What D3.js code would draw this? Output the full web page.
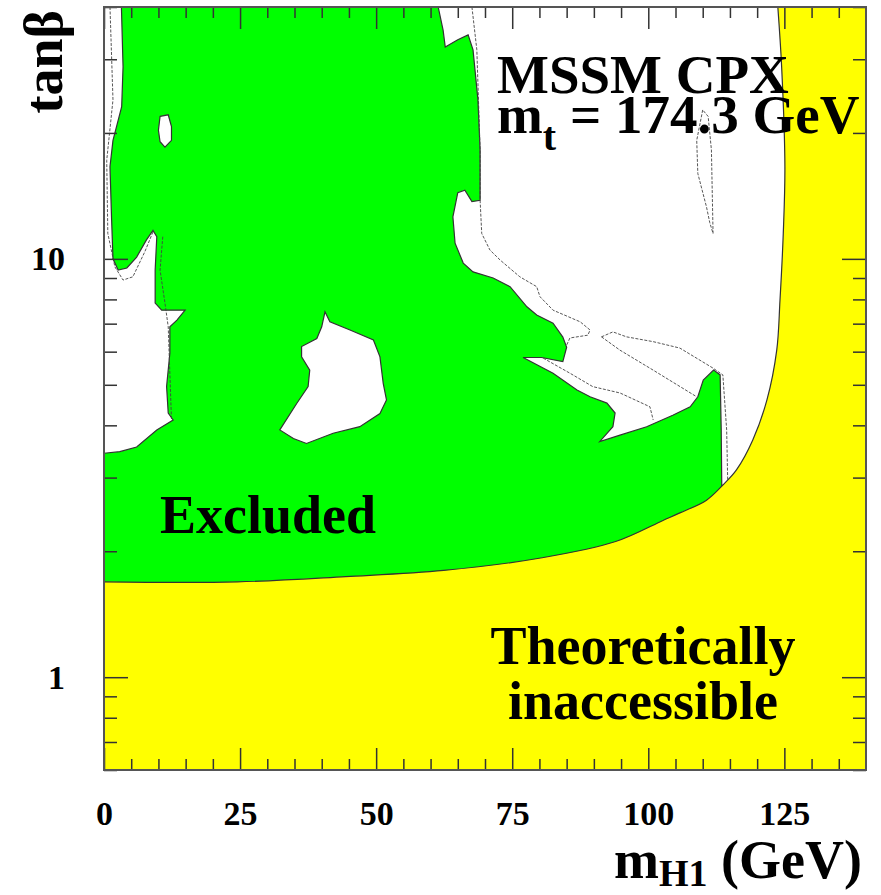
<!DOCTYPE html>
<html>
<head>
<meta charset="utf-8">
<script src="https://cdn.jsdelivr.net/npm/d3@7"></script>
<style>
body { margin: 0; background: #fff; }
text { font-family: "Liberation Serif", "Times New Roman", serif; font-weight: bold; fill: #000; }
</style>
</head>
<body>
<svg id="chart" width="881" height="895"></svg>
<script>
// all points are [mH1 (GeV), tanb]

// outline of the excluded (green) region
let excluded = [
  [3.2, 40], [61.4, 40], [62.3, 35.2], [62.7, 32.1], [65.0, 33.4], [66.9, 34.3], [67.8, 31.6],
  [68.7, 24.0], [69.1, 18.2], [69.1, 13.8], [67.6, 13.7], [66.3, 14.6], [65.0, 14.4], [64.1, 12.6],
  [64.5, 10.9], [66.0, 9.77], [67.8, 9.31], [71.5, 9.0], [74.6, 8.58], [77.7, 7.68], [79.5, 7.34],
  [82.5, 7.02], [84.3, 6.50], [85.0, 6.15], [84.3, 5.68], [80.4, 5.81], [77.0, 5.81], [82.5, 5.33],
  [86.9, 4.86], [89.3, 4.68], [92.4, 4.52], [93.9, 4.28], [93.5, 3.97], [91.1, 3.66], [94.8, 3.79],
  [99.7, 3.97], [104.5, 4.23], [107.7, 4.43], [109.1, 4.68], [110.1, 5.13], [112.0, 5.42],
  [113.2, 5.28], [113.4, 3.90], [113.5, 2.85], [113.5, 1.5], [0, 1.5], [0, 3.43], [2.9, 3.46],
  [6.0, 3.55], [9.7, 3.90], [12.7, 4.12], [11.8, 4.28], [11.5, 4.95], [12.1, 5.95], [12.1, 6.88],
  [13.4, 7.14], [14.9, 7.54], [10.6, 7.54], [9.4, 7.84], [9.4, 9.40], [9.7, 11.3], [9.0, 11.7],
  [7.8, 11.1], [6.0, 10.1], [4.2, 9.51], [2.6, 9.40], [1.65, 10.0], [1.4, 12.4], [1.1, 16.6],
  [1.65, 19.2], [3.25, 23.1], [3.5, 28.8]
];

// allowed islands inside the excluded region
let holeSmall = [[10.3, 21.9], [11.8, 22.1], [12.4, 20.7], [12.4, 19.2], [11.2, 18.5], [10.3, 19.05], [10.0, 20.3]];
let holeMid = [
  [40.6, 7.47], [41.5, 7.07], [45.2, 6.76], [49.5, 6.40], [50.7, 5.83], [51.3, 5.04], [51.9, 4.60],
  [50.7, 4.27], [47.0, 3.97], [42.1, 3.83], [37.2, 3.62], [34.8, 3.72], [32.3, 3.90], [35.4, 4.51],
  [37.5, 4.95], [37.8, 5.42], [36.3, 5.83], [36.3, 6.17], [39.1, 6.45], [40.0, 6.88]
];

// edge of the theoretically inaccessible (yellow) region
let theoryEdge = [
  [0, 1.69], [24.5, 1.69], [44.4, 1.74], [62.4, 1.80], [80.5, 1.93], [94.0, 2.11], [102.7, 2.37],
  [105.8, 2.47], [110.7, 2.65], [113.7, 2.88], [116.2, 3.13], [119.2, 3.69], [121.8, 4.60],
  [123.6, 6.05], [124.2, 7.97], [124.8, 11.5], [125.1, 16.6], [124.5, 28.8], [123.8, 40]
];

// thin dashed contours
let contours = [
  [[67.6, 40], [68.5, 31.6], [69.1, 18.2], [69.1, 13.8], [69.4, 11.5], [70.9, 10.5], [72.8, 9.93], [76.4, 9.06],
   [79.5, 8.58], [80.1, 8.12], [82.5, 7.54], [87.5, 7.07], [89.3, 6.76], [88.9, 6.57], [85.6, 6.47], [85.0, 6.22]],
  [[91.4, 6.51], [93.5, 6.69], [96.0, 6.51], [100.9, 6.34], [105.8, 6.12], [111.9, 5.48], [113.7, 5.28], [114.4, 3.90], [114.6, 2.91]],
  [[91.4, 6.51], [94.8, 6.05], [100.9, 5.42], [108.9, 4.68]],
  [[80.7, 5.79], [85.6, 5.33], [89.8, 4.95], [94.8, 4.78], [100.3, 4.43], [100.9, 4.12]],
  [[110.0, 22.7], [108.9, 19.2], [109.1, 16.0], [110.7, 13.3], [111.3, 12.2], [111.9, 11.5], [111.6, 18.2], [111.0, 21.9], [110.0, 22.7]],
  [[1.1, 40], [1.65, 24.0], [0.5, 17.2], [0.7, 11.5], [2.0, 9.57], [3.5, 8.9], [5.3, 9.06], [7.5, 10.4], [9.0, 11.6]],
  [[10.8, 11.3], [10.3, 9.4], [11.2, 7.84], [11.8, 6.88], [12.4, 4.12]]
];

let xMajor = [0, 25, 50, 75, 100, 125];
let xMinor = [5, 10, 15, 20, 30, 35, 40, 45, 55, 60, 65, 70, 80, 85, 90, 95, 105, 110, 115, 120, 130, 135];
let yMajor = [1, 10];
let yMinor = [0.6, 0.7, 0.8, 0.9, 2, 3, 4, 5, 6, 7, 8, 9, 20, 30, 40];

let svg = d3.select("#chart");
let pLeft = 104, pRight = 866, pTop = 7, pBottom = 770;

let x = d3.scaleLinear().domain([0, 140]).range([pLeft, pRight]);
let y = d3.scaleLog().domain([0.6, 40]).range([pBottom, pTop]);

svg.append("clipPath").attr("id", "plotclip")
  .append("rect").attr("x", pLeft).attr("y", pTop).attr("width", pRight - pLeft).attr("height", pBottom - pTop);

let plot = svg.append("g").attr("clip-path", "url(#plotclip)");

let line = d3.line().x(d => x(d[0])).y(d => y(d[1]));
let smooth = d3.line().x(d => x(d[0])).y(d => y(d[1])).curve(d3.curveCatmullRom.alpha(0.5));

plot.append("path")
  .attr("d", line(excluded) + "Z")
  .attr("fill", "#00ff00")
  .attr("stroke", "#333")
  .attr("stroke-width", 1.2);

plot.selectAll(".hole")
  .data([holeSmall, holeMid])
  .enter().append("path")
  .attr("class", "hole")
  .attr("d", d => line(d) + "Z")
  .attr("fill", "#fff")
  .attr("stroke", "#333")
  .attr("stroke-width", 1.2);

plot.selectAll(".contour")
  .data(contours)
  .enter().append("path")
  .attr("class", "contour")
  .attr("d", d => line(d))
  .attr("fill", "none")
  .attr("stroke", "#444")
  .attr("stroke-width", 0.9)
  .attr("stroke-dasharray", "3,1.5");

let edge = smooth(theoryEdge);
plot.append("path")
  .attr("d", edge + "L" + x(140) + "," + y(40) + "L" + x(140) + "," + y(0.6) + "L" + x(0) + "," + y(0.6) + "Z")
  .attr("fill", "#ffff00");
plot.append("path")
  .attr("d", edge)
  .attr("fill", "none")
  .attr("stroke", "#333")
  .attr("stroke-width", 1.2);

// ticks, all pointing into the frame
let tickStyle = g => {
  g.select(".domain").remove();
  g.selectAll("line").attr("stroke", "#333").attr("stroke-width", 1.5);
  g.selectAll("text").style("font-size", "34px");
};

svg.append("g").attr("transform", `translate(0,${pBottom})`)
  .call(d3.axisBottom(x).tickValues(xMinor).tickSize(-11).tickFormat("")).call(tickStyle);
svg.append("g").attr("transform", `translate(0,${pBottom})`)
  .call(d3.axisBottom(x).tickValues(xMajor).tickSize(-22).tickPadding(31).tickFormat(d3.format("d"))).call(tickStyle);
svg.append("g").attr("transform", `translate(0,${pTop})`)
  .call(d3.axisTop(x).tickValues(xMinor).tickSize(-11).tickFormat("")).call(tickStyle);
svg.append("g").attr("transform", `translate(0,${pTop})`)
  .call(d3.axisTop(x).tickValues(xMajor).tickSize(-22).tickFormat("")).call(tickStyle);

svg.append("g").attr("transform", `translate(${pLeft},0)`)
  .call(d3.axisLeft(y).tickValues(yMinor).tickSize(-13).tickFormat("")).call(tickStyle);
svg.append("g").attr("transform", `translate(${pLeft},0)`)
  .call(d3.axisLeft(y).tickValues(yMajor).tickSize(-24).tickPadding(39).tickFormat(d3.format("d"))).call(tickStyle);
svg.append("g").attr("transform", `translate(${pRight},0)`)
  .call(d3.axisRight(y).tickValues(yMinor).tickSize(-13).tickFormat("")).call(tickStyle);
svg.append("g").attr("transform", `translate(${pRight},0)`)
  .call(d3.axisRight(y).tickValues(yMajor).tickSize(-24).tickFormat("")).call(tickStyle);

svg.append("rect")
  .attr("x", pLeft).attr("y", pTop)
  .attr("width", pRight - pLeft).attr("height", pBottom - pTop)
  .attr("fill", "none")
  .attr("stroke", "#555")
  .attr("stroke-width", 2);

// labels
let label = (tx, ty, size) => svg.append("text").attr("x", tx).attr("y", ty).style("font-size", size + "px");

label(160, 533, 54).text("Excluded");
label(643, 664, 54).attr("text-anchor", "middle").text("Theoretically");
label(643, 719, 54).attr("text-anchor", "middle").text("inaccessible");

label(497, 93, 55).text("MSSM CPX");
let mt = label(497, 133, 55);
mt.append("tspan").text("m");
mt.append("tspan").attr("dy", 17).style("font-size", "40px").text("t");
mt.append("tspan").attr("dy", -17).text(" = 174.3 GeV");

let xt = label(862, 878, 54).attr("text-anchor", "end");
xt.append("tspan").text("m");
xt.append("tspan").attr("dy", 8).style("font-size", "38px").text("H1");
xt.append("tspan").attr("dy", -8).text(" (GeV)");

svg.append("text")
  .attr("transform", "translate(62,10) rotate(-90)")
  .attr("text-anchor", "end")
  .style("font-size", "54px")
  .text("tanβ");
</script>
</body>
</html>
